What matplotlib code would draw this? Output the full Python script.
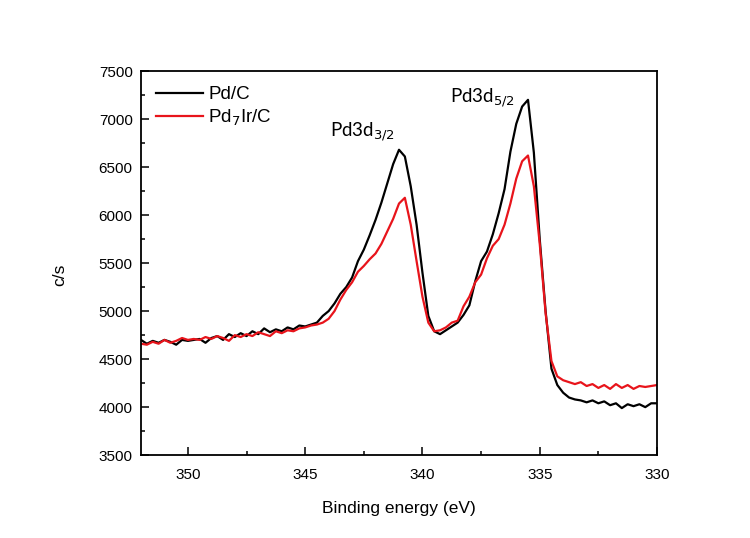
import matplotlib
matplotlib.use('Agg')
import matplotlib.pyplot as plt
from matplotlib.ticker import MultipleLocator

plt.rcParams['font.family'] = ['Liberation Sans', 'DejaVu Sans']

energy = [352.00, 351.75, 351.50, 351.25, 351.00, 350.75, 350.50, 350.25,
          350.00, 349.75, 349.50, 349.25, 349.00, 348.75, 348.50, 348.25,
          348.00, 347.75, 347.50, 347.25, 347.00, 346.75, 346.50, 346.25,
          346.00, 345.75, 345.50, 345.25, 345.00, 344.75, 344.50, 344.25,
          344.00, 343.75, 343.50, 343.25, 343.00, 342.75, 342.50, 342.25,
          342.00, 341.75, 341.50, 341.25, 341.00, 340.75, 340.50, 340.25,
          340.00, 339.75, 339.50, 339.25, 339.00, 338.75, 338.50, 338.25,
          338.00, 337.75, 337.50, 337.25, 337.00, 336.75, 336.50, 336.25,
          336.00, 335.75, 335.50, 335.25, 335.00, 334.75, 334.50, 334.25,
          334.00, 333.75, 333.50, 333.25, 333.00, 332.75, 332.50, 332.25,
          332.00, 331.75, 331.50, 331.25, 331.00, 330.75, 330.50, 330.25,
          330.00]

pd_c = [4700, 4660, 4690, 4670, 4700, 4680, 4650, 4700,
        4690, 4700, 4710, 4670, 4720, 4740, 4700, 4760,
        4730, 4770, 4740, 4790, 4760, 4820, 4780, 4810,
        4790, 4830, 4810, 4850, 4840, 4860, 4880, 4950,
        5000, 5080, 5180, 5250, 5350, 5520, 5640, 5790,
        5950, 6130, 6330, 6530, 6680, 6610, 6300, 5900,
        5400, 4950, 4790, 4760, 4800, 4840, 4880, 4960,
        5060, 5310, 5520, 5620, 5800, 6020, 6270, 6660,
        6950, 7130, 7200, 6650, 5750, 5000, 4400, 4230,
        4150, 4100, 4080, 4070, 4050, 4070, 4040, 4060,
        4020, 4040, 3990, 4030, 4010, 4030, 4000, 4040,
        4040]

pd7ir_c = [4660, 4650, 4680, 4660, 4700, 4670, 4690, 4720,
           4700, 4710, 4700, 4730, 4710, 4740, 4720, 4690,
           4750, 4730, 4760, 4740, 4780, 4760, 4740, 4790,
           4770, 4800, 4790, 4820, 4830, 4850, 4860, 4880,
           4920, 5000, 5120, 5220, 5300, 5410, 5470, 5540,
           5600, 5700, 5830, 5960, 6120, 6180, 5900, 5520,
           5150, 4880, 4790, 4800, 4830, 4880, 4900, 5050,
           5150, 5300, 5380, 5550, 5680, 5750, 5900, 6120,
           6380, 6560, 6620, 6300, 5700, 4980, 4480, 4320,
           4280, 4260, 4240, 4260, 4220, 4240, 4200, 4230,
           4190, 4240, 4200, 4230, 4190, 4220, 4210, 4220,
           4230]

fig = plt.figure(figsize=(7.5, 5.38), dpi=100)
ax = fig.add_axes([0.188, 0.154, 0.688, 0.714])

ax.plot(energy, pd_c, color='black', lw=1.6, label='Pd/C')
ax.plot(energy, pd7ir_c, color='#e8141b', lw=1.6, label='Pd$_7$Ir/C')

ax.set_xlim(352, 330)
ax.set_ylim(3500, 7500)
ax.xaxis.set_major_locator(MultipleLocator(5))
ax.xaxis.set_minor_locator(MultipleLocator(2.5))
ax.yaxis.set_major_locator(MultipleLocator(500))
ax.yaxis.set_minor_locator(MultipleLocator(250))
ax.tick_params(which='both', direction='in', labelsize=11, width=1.1)
ax.tick_params(which='major', length=6)
ax.tick_params(which='minor', length=3)
ax.tick_params(axis='x', pad=9)
ax.tick_params(axis='y', pad=6)
for s in ax.spines.values():
    s.set_linewidth(1.3)

ax.set_xlabel('Binding energy (eV)', fontsize=12.5, labelpad=14)
ax.set_ylabel('c/s', fontsize=12.5)
ax.yaxis.set_label_coords(-0.143, 0.47)

ax.text(342.55, 6870, 'Pd3d$_{3/2}$', fontsize=13.5, family=['Lato', 'DejaVu Sans'],
        ha='center', va='center')
ax.text(337.45, 7220, 'Pd3d$_{5/2}$', fontsize=13.5, family=['Lato', 'DejaVu Sans'],
        ha='center', va='center')

ax.legend(loc='upper left', frameon=False, fontsize=13.5, handlelength=2.5,
          borderaxespad=0.35, borderpad=0.45, labelspacing=0.25, handletextpad=0.3)

plt.savefig('out.png', dpi=100)
